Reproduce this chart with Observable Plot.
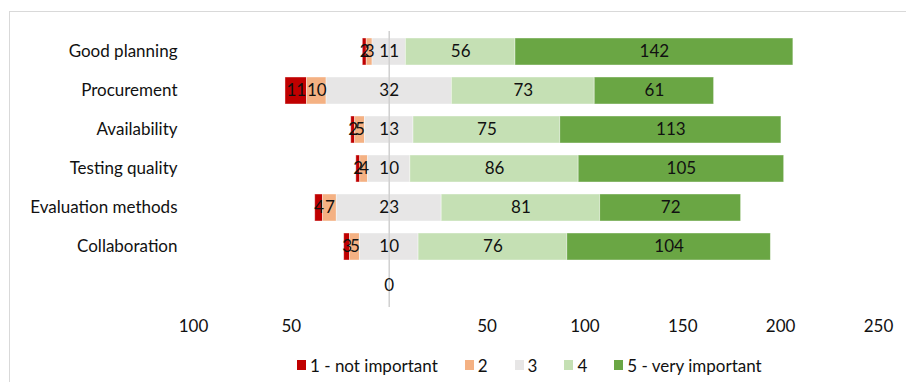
<!DOCTYPE html>
<html><head><meta charset="utf-8">
<script src="https://cdn.jsdelivr.net/npm/d3@7"></script>
<script src="https://cdn.jsdelivr.net/npm/@observablehq/plot@0.6"></script>
<style>
html,body{margin:0;padding:0;background:#fff;overflow:hidden;}
#wrap{position:relative;width:906px;height:382px;overflow:hidden;font-family:Lato,sans-serif;}
#frame{position:absolute;left:9px;top:11px;width:1000px;height:1000px;border-top:1px solid #d9d9d9;border-left:1px solid #d9d9d9;}
#chart{position:absolute;left:0;top:0;}
#legend{position:absolute;left:297px;top:355px;display:flex;gap:27px;font-size:17px;color:#111;align-items:center;height:20px;white-space:nowrap;}
.item{display:flex;align-items:center;gap:4px}
.sw{width:9px;height:10px;display:inline-block}
</style></head><body><div id="wrap"><div id="frame"></div><div id="chart"></div><div id="legend"></div></div>
<script>
const categories = ["Good planning","Procurement","Availability","Testing quality","Evaluation methods","Collaboration"];
const levels = ["1 - not important","2","3","4","5 - very important"];
const colors = ["#C00000","#F4B183","#E7E6E6","#C5E0B4","#6AA644"];
const n1 = [2,11,2,2,4,3];
const n2 = [3,10,5,4,7,5];
const n3 = [11,32,13,10,23,10];
const n4 = [56,73,75,86,81,76];
const n5 = [142,61,113,105,72,104];
// neutral bar as drawn: half of its length on each side of zero
const neutralHalf = [8.5,32,12.4,10.8,26.8,15];
const xTicks = [-100,-50,50,100,150,200,250];
const zeroLabel = "0";

const segs = [];
categories.forEach((c,i)=>{
  const h = neutralHalf[i];
  segs.push({cat:c,lvl:0,x1:-h-n2[i]-n1[i],x2:-h-n2[i],v:n1[i]});
  segs.push({cat:c,lvl:1,x1:-h-n2[i],x2:-h,v:n2[i]});
  segs.push({cat:c,lvl:2,x1:-h,x2:h,v:n3[i]});
  segs.push({cat:c,lvl:3,x1:h,x2:h+n4[i],v:n4[i]});
  segs.push({cat:c,lvl:4,x1:h+n4[i],x2:h+n4[i]+n5[i],v:n5[i]});
});

const chart = Plot.plot({
  width:906, height:382, marginLeft:193, marginRight:28, marginTop:31, marginBottom:75,
  x:{domain:[-100,250]},
  y:{domain:[...categories,""], paddingInner:0.3, paddingOuter:0.15},
  color:{domain:levels, range:colors},
  style:{fontFamily:"Lato, sans-serif", fontSize:"17px", color:"#111", background:"transparent"},
  marks:[
    Plot.barX(segs,{x1:"x1",x2:"x2",y:"cat",fill:d=>levels[d.lvl],stroke:"#fff",strokeOpacity:0.5,strokeWidth:0.8}),
    Plot.ruleX([0],{stroke:"#d0d0d0",strokeWidth:1.5}),
    Plot.text(segs,{x:d=>(d.x1+d.x2)/2,y:"cat",text:"v",fill:"#111",fontSize:17}),
    Plot.text([zeroLabel],{x:0,y:()=>"",text:d=>d,fill:"#111",fontSize:17}),
    Plot.axisX({ticks:xTicks,tickFormat:d=>Math.abs(d),tickSize:0,tickPadding:12,fontSize:17,label:null}),
    Plot.axisY({tickSize:0,tickPadding:16,fontSize:17,label:null})
  ]
});
document.getElementById("chart").appendChild(chart);

const lg = document.getElementById("legend");
levels.forEach((l,i)=>{
  const it = document.createElement("div"); it.className="item";
  const sw = document.createElement("span"); sw.className="sw"; sw.style.background=colors[i];
  const tx = document.createElement("span"); tx.textContent=l;
  it.appendChild(sw); it.appendChild(tx); lg.appendChild(it);
});
</script></body></html>
